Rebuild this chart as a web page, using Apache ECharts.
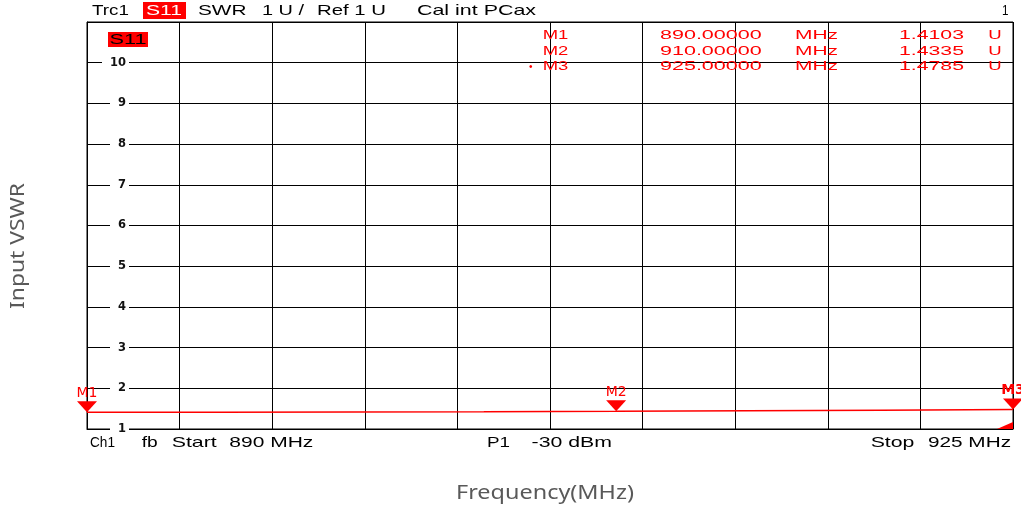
<!DOCTYPE html>
<html><head><meta charset="utf-8">
<script src="https://cdn.jsdelivr.net/npm/echarts@6/dist/echarts.min.js"></script>
<style>html,body{margin:0;padding:0;background:#fff}#c{width:1021px;height:510px}</style>
</head><body><div id="c"></div>
<script>
// ---- data ----
const traceFreqs = [890, 895, 900, 905, 910, 915, 920, 925];
const traceValues = [1.4103, 1.414, 1.419, 1.425, 1.4335, 1.446, 1.461, 1.4785];
const markerNames = ['M1', 'M2', 'M3'];
const markerFreqs = [890, 910, 925];
const markerValues = [1.4103, 1.4335, 1.4785];
const yTicks = [1, 2, 3, 4, 5, 6, 7, 8, 9, 10, 11];

const chart = echarts.init(document.getElementById('c'), null, {renderer: 'canvas'});
const mctx = document.createElement('canvas').getContext('2d');
const INST = '"Liberation Sans", Arial, sans-serif';
function fitText(str, x, y, w, fs, color, opts) {
  opts = opts || {};
  const fam = opts.family || INST;
  const weight = opts.weight || 'normal';
  const font = weight + ' ' + fs + 'px ' + fam;
  mctx.font = font;
  const mw = mctx.measureText(str).width || 1;
  const sx = w ? w / mw : 1;
  return {
    type: 'text', x: x, y: y, scaleX: sx, rotation: opts.rotation || 0, z: 100,
    style: {text: str, font: font, fill: color, textAlign: opts.align || 'left', textVerticalAlign: 'middle'}
  };
}
const g = [];
// header
g.push(fitText('Trc1', 92, 11.3, 37, 15, '#000'));
g.push({type: 'rect', shape: {x: 143, y: 2, width: 43, height: 17}, style: {fill: '#ff0000'}, z: 99});
g.push(fitText('S11', 146, 11.3, 36, 15, '#fff'));
g.push(fitText('SWR', 198, 11.3, 48.5, 15, '#000'));
g.push(fitText('1 U /', 262, 11.3, 42, 15, '#000'));
g.push(fitText('Ref 1 U', 317, 11.3, 69, 15, '#000'));
g.push(fitText('Cal int PCax', 417, 11.3, 119, 15, '#000'));
g.push(fitText('1', 1002, 11.3, 6.5, 15, '#000'));
// trace label
g.push({type: 'rect', shape: {x: 108, y: 32, width: 40, height: 15}, style: {fill: '#ff0000'}, z: 99});
g.push(fitText('S11', 109.5, 39.8, 37, 14, '#000'));
// marker table
const rowY = [36, 51.3, 66.7];
markerNames.forEach(function (n, i) {
  const y = rowY[i];
  g.push(fitText(n, 542.7, y, 25.6, 12.5, '#ff0000'));
  g.push(fitText(markerFreqs[i].toFixed(5), 660, y, 101.7, 12.5, '#ff0000'));
  g.push(fitText('MHz', 795, y, 43, 12.5, '#ff0000'));
  g.push(fitText(markerValues[i].toFixed(4), 899, y, 65, 12.5, '#ff0000'));
  g.push(fitText('U', 988.3, y, 13.4, 12.5, '#ff0000'));
});
g.push(fitText('•', 529, 67, 0, 10, '#ff0000'));
// bottom info
g.push(fitText('Ch1', 90, 443, 25, 15, '#000'));
g.push(fitText('fb', 141.7, 443, 16, 15, '#000'));
g.push(fitText('Start', 171.7, 443, 45, 15, '#000'));
g.push(fitText('890 MHz', 229.3, 443, 84, 15, '#000'));
g.push(fitText('P1', 487, 443, 23, 15, '#000'));
g.push(fitText('-30 dBm', 531.6, 443, 80.4, 15, '#000'));
g.push(fitText('Stop', 870.7, 443, 43.7, 15, '#000'));
g.push(fitText('925 MHz', 928, 443, 83, 15, '#000'));
// axis names
g.push(fitText('Input VSWR', 19, 246, 126, 19, '#595959', {family: '"Noto Sans", sans-serif', align: 'center', rotation: Math.PI / 2}));
g.push(fitText('Frequency(MHz)', 545, 494, 178, 19, '#595959', {family: '"Noto Sans", sans-serif', align: 'center'}));

const markerData = markerNames.map(function (n, i) {
  return {name: n, coord: [markerFreqs[i], markerValues[i]],
    label: {show: true, position: 'top', distance: 1, color: '#ff0000', fontSize: 14,
      fontFamily: '"DejaVu Sans", sans-serif', fontWeight: i === 2 ? 'bold' : 'normal',
      formatter: n}};
});
// overflow indicator wedge at the bottom right corner of the trace window
markerData.push({name: '', coord: [traceFreqs[traceFreqs.length - 1], yTicks[0]],
  symbol: 'path://M16,0 L16,7 L0,7 Z', symbolSize: [16, 7], symbolRotate: 0, symbolOffset: [-8, -3.5],
  label: {show: false}});

const option = {
  animation: false,
  backgroundColor: '#fff',
  grid: {left: 87, right: 8, top: 22, bottom: 81, show: true, borderColor: '#000', borderWidth: 1, backgroundColor: 'transparent'},
  xAxis: [
    {type: 'value', min: traceFreqs[0], max: traceFreqs[traceFreqs.length - 1], show: false},
    {type: 'value', min: 0, max: 10, interval: 1, position: 'bottom',
      axisLine: {show: true, lineStyle: {color: '#000', width: 1}}, axisTick: {show: false}, axisLabel: {show: false},
      splitLine: {show: true, lineStyle: {color: '#000', width: 1}}}
  ],
  yAxis: {
    type: 'value', min: yTicks[0], max: yTicks[yTicks.length - 1], interval: 1,
    axisLine: {show: true, lineStyle: {color: '#000', width: 1}}, axisTick: {show: false},
    splitLine: {show: true, lineStyle: {color: '#000', width: 1}},
    axisLabel: {inside: true, align: 'right', margin: 42, showMaxLabel: false,
      fontFamily: '"DejaVu Sans", sans-serif', fontSize: 11.5, fontWeight: 'bold', color: '#111',
      backgroundColor: '#fff', padding: [1, 3, 1, 8]}
  },
  series: [{
    type: 'line', xAxisIndex: 0, yAxisIndex: 0,
    data: traceFreqs.map(function (f, i) { return [f, traceValues[i]]; }),
    showSymbol: false, lineStyle: {color: '#ff0000', width: 1.5}, itemStyle: {color: '#ff0000'},
    z: 5,
    markPoint: {
      symbol: 'triangle', symbolRotate: 180, symbolSize: [20, 11], symbolOffset: [0, -5.5],
      itemStyle: {color: '#ff0000'},
      data: markerData
    }
  }],
  graphic: g
};
chart.setOption(option);
</script></body></html>
